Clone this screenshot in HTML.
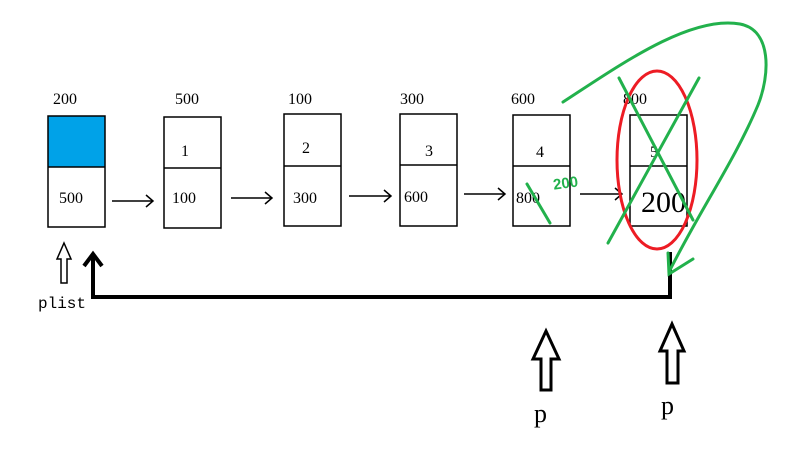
<!DOCTYPE html>
<html><head><meta charset="utf-8"><style>
html,body{margin:0;padding:0;background:#fff;}
svg{display:block;}
</style></head><body>
<svg width="794" height="449" viewBox="0 0 794 449" xmlns="http://www.w3.org/2000/svg">
<g stroke="#000" stroke-width="1.5" fill="none">
<rect x="48" y="116" width="57" height="51" fill="#00a2e8" stroke="none"/>
<rect x="48" y="116" width="57" height="111"/><line x1="48" y1="167" x2="105" y2="167"/>
<rect x="164" y="117" width="57" height="111"/><line x1="164" y1="168" x2="221" y2="168"/>
<rect x="284" y="114" width="57" height="112"/><line x1="284" y1="166" x2="341" y2="166"/>
<rect x="400" y="114" width="57" height="112"/><line x1="400" y1="165" x2="457" y2="165"/>
<rect x="513" y="115" width="57" height="111"/><line x1="513" y1="166" x2="570" y2="166"/>
<rect x="630" y="115" width="57" height="111"/><line x1="630" y1="166" x2="687" y2="166"/>
<path d="M112 201H153M146 195L153 201L146 207"/>
<path d="M231 198H272M265 192L272 198L265 204"/>
<path d="M349 196H391M384 190L391 196L384 202"/>
<path d="M464 194H505M498 188L505 194L498 200"/>
<path d="M580 194H622M615 188L622 194L615 200"/>
</g>
<path d="M670 252V297H93V256M84 266L93 254L102 266" stroke="#000" stroke-width="4" fill="none"/>
<g stroke="#000" fill="#fff">
<path d="M64 243L71 259H67V283H61V259H57Z" stroke-width="1.5"/>
<path d="M546 331L559 359H551V390H541V359H533Z" stroke-width="3"/>
<path d="M672 324L684 351H678V383H667V351H660Z" stroke-width="3"/>
</g>
<g style="font-family:'Liberation Serif',serif;font-size:16px;fill:#000">
<text x="53" y="104">200</text><text x="175" y="104">500</text><text x="288" y="104">100</text>
<text x="400" y="104">300</text><text x="511" y="104">600</text><text x="623" y="104">800</text>
<text x="59" y="203">500</text><text x="181" y="156">1</text><text x="172" y="203">100</text>
<text x="302" y="153">2</text><text x="293" y="203">300</text>
<text x="425" y="156">3</text><text x="404" y="202">600</text>
<text x="536" y="157">4</text><text x="516" y="203">800</text>
<text x="650" y="157">5</text>
<text x="641" y="212" style="font-size:30px">200</text>
<text x="38" y="308" style="font-family:'Liberation Mono',monospace;font-size:16px">plist</text>
<text x="534" y="422" style="font-size:26px">p</text>
<text x="661" y="414" style="font-size:26px">p</text>
</g>
<ellipse cx="657" cy="160" rx="40" ry="89" stroke="#ed1c24" stroke-width="3" fill="none"/>
<g stroke="#22b14c" stroke-width="3" fill="none" stroke-linecap="round">
<line x1="619" y1="78" x2="693" y2="220"/>
<line x1="699" y1="78" x2="608" y2="243"/>
<line x1="527" y1="184" x2="550" y2="223"/>
<path d="M563 102C620 65 690 15 740 24C772 30 770 75 758 105C735 160 700 210 669 272"/>
<path d="M668 253L669 274L693 259"/>
</g>
<text x="553" y="188" style="font-family:'Liberation Sans',sans-serif;font-size:15px;font-weight:bold;fill:#22b14c" transform="rotate(-8 566 183)">200</text>
</svg>
</body></html>
